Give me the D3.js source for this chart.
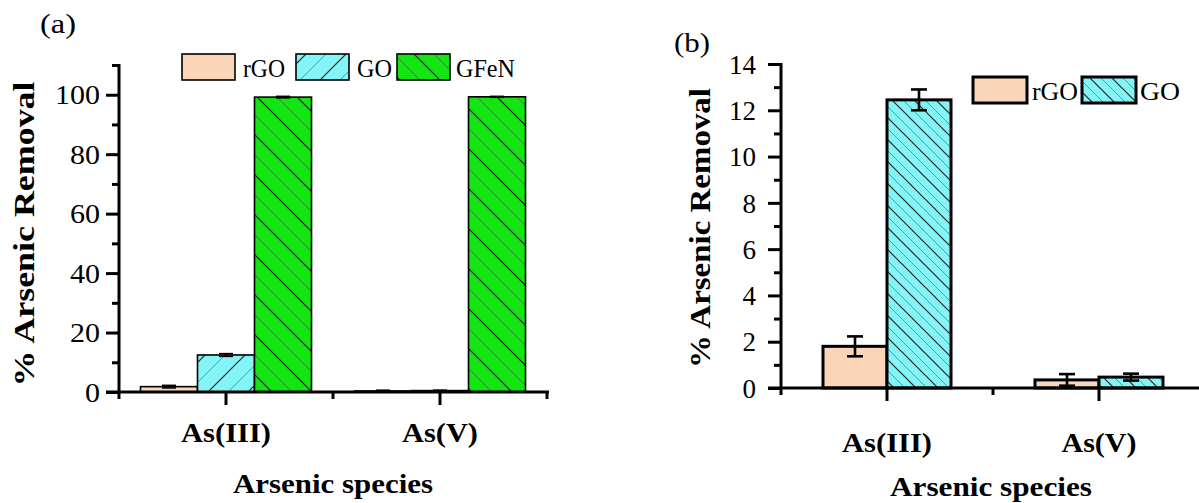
<!DOCTYPE html>
<html><head><meta charset="utf-8">
<script src="https://cdn.jsdelivr.net/npm/d3@7"></script>
<style>
html,body{margin:0;padding:0;background:#fff;}
svg{display:block;}
text{font-family:"Liberation Serif","Tinos","Times New Roman","Nimbus Roman","FreeSerif",serif;fill:#000;}
</style></head>
<body>
<svg id="chart" width="1199" height="503"></svg>
<script>
// ---------------- data ----------------
const categories = ["As(III)", "As(V)"];
const seriesA = ["rGO", "GO", "GFeN"];
const seriesB = ["rGO", "GO"];
const rgoVals = [1.8, 0.35];
const rgoErr  = [0.43, 0.25];
const goVals  = [12.45, 0.47];
const goErr   = [0.45, 0.15];
const gfenVals = [99.2, 99.3];
const gfenErr  = [0.25, 0.15];
const yTicksA = [0, 20, 40, 60, 80, 100];
const yMinorA = [10, 30, 50, 70, 90, 110];
const yTicksB = [0, 2, 4, 6, 8, 10, 12, 14];
const yMinorB = [1, 3, 5, 7, 9, 11, 13];
const yTitle = "% Arsenic Removal";
const xTitle = "Arsenic species";

const svg = d3.select("#chart");
svg.append("rect").attr("width", 1199).attr("height", 503).attr("fill", "#fff");
const defs = svg.append("defs");

const COL = { rGO: "#FAD5BA", GO: "#84F5F6", GFeN: "#12E512" };

function hatch(id, bg, s, dir) {
  const T = 2 * s;
  const p = defs.append("pattern").attr("id", id)
    .attr("patternUnits", "userSpaceOnUse").attr("width", T).attr("height", T);
  p.append("rect").attr("width", T).attr("height", T).attr("fill", bg);
  for (let k = -4; k <= 4; k++) {
    const c = k * s;
    const dark = (k % 2 === 0);
    let x1, y1, x2, y2;
    if (dir === "\\") { x1 = c - 3 * s; y1 = -3 * s; x2 = c + 3 * s; y2 = 3 * s; }
    else { x1 = c - 3 * s; y1 = T + 3 * s; x2 = c + 3 * s; y2 = T - 3 * s; }
    p.append("line").attr("x1", x1).attr("y1", y1).attr("x2", x2).attr("y2", y2)
      .attr("stroke", dark ? "#1b1b1b" : "#3a3a3a")
      .attr("stroke-opacity", dark ? 0.95 : 0.5)
      .attr("stroke-width", dark ? 1.2 : 1);
  }
}
hatch("aGO", COL.GO, 20, "/");
hatch("aGFeN", COL.GFeN, 20, "\\");
hatch("bGO", COL.GO, 11, "\\");

const fillA = { rGO: COL.rGO, GO: "url(#aGO)", GFeN: "url(#aGFeN)" };
const fillB = { rGO: COL.rGO, GO: "url(#bGO)" };

function fitLen(sel, fn) {
  sel.each(function (d, i) {
    d3.select(this).attr("textLength", fn(this.textContent, d, i)).attr("lengthAdjust", "spacingAndGlyphs");
  });
}

function panel(o) {
  const g = svg.append("g");
  const x = d3.scaleBand().domain(categories).range(o.xr).paddingInner(0).paddingOuter(0);
  const xs = d3.scaleBand().domain(o.series).range([0, x.bandwidth()]).paddingInner(0).paddingOuter(o.outerPad);
  const y = d3.scaleLinear().domain(o.ydom).range(o.yr);

  // bars
  o.series.forEach(s => {
    const vals = o.vals[s];
    categories.forEach((c, i) => {
      const bx = x(c) + xs(s);
      g.append("rect").attr("x", bx).attr("width", xs.bandwidth())
        .attr("y", y(vals[i])).attr("height", y(0) - y(vals[i]))
        .attr("fill", o.fill[s]).attr("stroke", "#000").attr("stroke-width", o.barStroke);
    });
  });
  // error bars
  o.series.forEach(s => {
    const vals = o.vals[s], errs = o.errs[s];
    categories.forEach((c, i) => {
      const cx = x(c) + xs(s) + xs.bandwidth() / 2;
      const y1 = y(vals[i] - errs[i]), y2 = y(vals[i] + errs[i]);
      const eg = g.append("g").attr("stroke", "#000").attr("stroke-width", o.errStroke);
      eg.append("line").attr("x1", cx).attr("x2", cx).attr("y1", y1).attr("y2", y2);
      eg.append("line").attr("x1", cx - o.cap).attr("x2", cx + o.cap).attr("y1", y1).attr("y2", y1);
      eg.append("line").attr("x1", cx - o.cap).attr("x2", cx + o.cap).attr("y1", y2).attr("y2", y2);
    });
  });

  const x0 = o.xr[0];
  // y axis minor ticks
  g.append("g").attr("transform", `translate(${x0},0)`)
    .call(d3.axisLeft(y).tickValues(o.yMinor).tickSize(7).tickFormat(""))
    .call(a => a.select(".domain").remove())
    .call(a => a.selectAll("line").attr("stroke-width", o.axStroke));
  // y axis major ticks + labels
  const ya = g.append("g").attr("transform", `translate(${x0},0)`)
    .call(d3.axisLeft(y).tickValues(o.yTicks).tickSize(13).tickPadding(o.tickPad).tickFormat(d3.format("d")))
    .call(a => a.select(".domain").remove())
    .call(a => a.selectAll("line").attr("stroke-width", o.axStroke));
  ya.selectAll("text").attr("font-size", o.tickFont).attr("fill", "#000").attr("dy", "0.34em");
  fitLen(ya.selectAll("text"), t => t.length * o.digitW);
  g.append("line").attr("x1", x0).attr("x2", x0).attr("y1", y(o.ydom[1]) - 1).attr("y2", y(0))
    .attr("stroke", "#000").attr("stroke-width", o.axStroke);

  // x axis
  g.append("g").attr("transform", `translate(0,${y(0)})`)
    .call(d3.axisBottom(x).tickSize(13).tickFormat(""))
    .call(a => a.select(".domain").remove())
    .call(a => a.selectAll("line").attr("stroke-width", o.axStroke));
  const bounds = [x.range()[0]].concat(categories.map(c => x(c) + x.bandwidth()));
  g.append("g").selectAll("line").data(bounds).join("line")
    .attr("x1", d => d).attr("x2", d => d).attr("y1", y(0)).attr("y2", y(0) + 7)
    .attr("stroke", "#000").attr("stroke-width", o.axStroke);
  g.append("line").attr("x1", x0 - 13).attr("x2", Math.min(x.range()[1], 1199) + 2)
    .attr("y1", y(0)).attr("y2", y(0)).attr("stroke", "#000").attr("stroke-width", o.axStroke);

  // category labels
  const cl = g.append("g").selectAll("text").data(categories).join("text")
    .attr("x", d => x(d) + x.bandwidth() / 2).attr("y", o.catY)
    .attr("text-anchor", "middle").attr("font-weight", "bold").attr("font-size", 27).text(d => d);
  fitLen(cl, (t, d, i) => o.catLen[i]);

  // axis titles
  g.append("text").attr("x", o.xtX).attr("y", o.xtY).attr("text-anchor", "middle")
    .attr("font-weight", "bold").attr("font-size", 28).text(xTitle)
    .attr("textLength", o.xtLen).attr("lengthAdjust", "spacingAndGlyphs");
  g.append("text").attr("transform", `translate(${o.ytX},${o.ytY}) rotate(-90)`)
    .attr("text-anchor", "middle").attr("font-weight", "bold").attr("font-size", 29).text(yTitle)
    .attr("textLength", o.ytLen).attr("lengthAdjust", "spacingAndGlyphs");

  // panel label
  g.append("text").attr("x", o.plX).attr("y", o.plY).attr("font-size", 27).text(o.label)
    .attr("textLength", 36).attr("lengthAdjust", "spacingAndGlyphs");

  // legend
  o.series.forEach((s, i) => {
    const L = o.legend[i];
    g.append("rect").attr("x", L[0]).attr("y", o.legY).attr("width", o.legW).attr("height", o.legH)
      .attr("fill", o.fill[s]).attr("stroke", "#000").attr("stroke-width", o.legStroke);
    g.append("text").attr("x", L[1]).attr("y", o.legTextY).attr("font-size", o.legFont).text(s)
      .attr("textLength", L[2]).attr("lengthAdjust", "spacingAndGlyphs");
  });
}

panel({
  series: seriesA, vals: { rGO: rgoVals, GO: goVals, GFeN: gfenVals },
  errs: { rGO: rgoErr, GO: goErr, GFeN: gfenErr }, fill: fillA,
  xr: [119, 547], outerPad: 0.377, ydom: [0, 110], yr: [392, 65],
  yTicks: yTicksA, yMinor: yMinorA, tickPad: 6, tickFont: 27, digitW: 15,
  barStroke: 1.6, errStroke: 1.6, cap: 7, axStroke: 3,
  catY: 442, catLen: [90, 76], xtX: 333, xtY: 493, xtLen: 200, ytX: 34, ytY: 234, ytLen: 305,
  label: "(a)", plX: 40, plY: 33,
  legend: [[182, 243, 42], [296, 357, 35], [397, 456, 59]], legY: 54, legW: 53, legH: 26,
  legStroke: 1.6, legTextY: 77, legFont: 25
});

panel({
  series: seriesB, vals: { rGO: rgoVals, GO: goVals },
  errs: { rGO: rgoErr, GO: goErr }, fill: fillB,
  xr: [781, 1205], outerPad: 0.656, ydom: [0, 14], yr: [388, 64],
  yTicks: yTicksB, yMinor: yMinorB, tickPad: 12, tickFont: 27, digitW: 13.5,
  barStroke: 3, errStroke: 2.6, cap: 8, axStroke: 3,
  catY: 452, catLen: [90, 75], xtX: 991, xtY: 496, xtLen: 202, ytX: 710, ytY: 228, ytLen: 280,
  label: "(b)", plX: 674, plY: 52,
  legend: [[973, 1032, 46], [1082, 1140, 40]], legY: 77, legW: 54, legH: 26,
  legStroke: 3, legTextY: 100, legFont: 26
});
</script>
</body></html>
